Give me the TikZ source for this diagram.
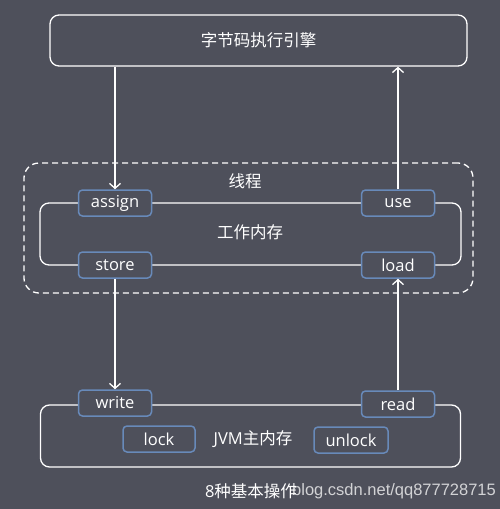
\documentclass[tikz,border=0pt]{standalone}
\usepackage{fontspec}
\setmainfont{Open Sans}
\newfontfamily\cjk{Noto Sans CJK SC}
\newfontfamily\wmfont{Liberation Sans}
\usetikzlibrary{arrows.meta}
\definecolor{bg}{RGB}{78,80,91}
\definecolor{nodeb}{RGB}{104,138,186}
\begin{document}
\begin{tikzpicture}[x=1pt,y=-1pt,
  op/.style={draw=nodeb, line width=1.5pt, fill=bg, rounded corners=4pt, minimum width=73pt, minimum height=26pt, text=white, font=\fontsize{16.5}{18}\selectfont, inner sep=0pt},
  box/.style={draw=white, line width=1.3pt, rounded corners=9pt, inner sep=0pt},
  lbl/.style={text=white, font=\fontsize{16.5}{18}\selectfont\cjk, inner sep=0pt},
  arr/.style={draw=white, line width=1.3pt, -{Straight Barb[length=5pt,width=11pt]}}]
\fill[bg] (0,0) rectangle (500,509);
\useasboundingbox (0,0) rectangle (500,509);
% containers
\node[box, minimum width=417pt, minimum height=51pt, lbl] (engine) at (258.5,40.5) {字节码执行引擎};
\node[draw=white, dash pattern=on 6pt off 4pt, line width=1.3pt, rounded corners=15pt, minimum width=449pt, minimum height=130pt, inner sep=0pt] (thread) at (248.5,228) {};
\node[lbl] (threadlbl) at (245,181) {线程};
\node[box, minimum width=421pt, minimum height=62pt] (work) at (250.5,234) {};
\node[lbl] (worklbl) at (250,232) {工作内存};
\node[box, minimum width=420pt, minimum height=62pt] (main) at (250.5,436) {};
\node[lbl] (mainlbl) at (253,439) {{\fontspec{Open Sans}JVM}主内存};
% operations
\node[op] (assign) at (115,203) {assign};
\node[op] (use) at (398,203) {use};
\node[op] (store) at (115,265) {store};
\node[op] (load) at (398,265) {load};
\node[op] (write) at (115,403) {write};
\node[op] (read) at (398,404) {read};
\node[op, minimum width=72pt] (lock) at (159,439) {lock};
\node[op, minimum width=74pt] (unlock) at (351,440) {unlock};
% connectors
\draw[arr] (engine.south -| assign.north) -- (assign.north);
\draw[arr] (use.north) -- (engine.south -| use.north);
\draw[arr] (store.south) -- (write.north);
\draw[arr] (read.north) -- (load.south);
% caption and watermark
\node[lbl, font=\fontsize{16.5}{18}\selectfont\cjk] (caption) at (251,491) {{\fontspec{Open Sans}8}种基本操作};
\node[anchor=west, inner sep=0pt, text=white, opacity=0.75, font=\fontsize{16.5}{18}\selectfont\wmfont] (wm) at (292,491) {blog.csdn.net/qq877728715};
\end{tikzpicture}
\end{document}
